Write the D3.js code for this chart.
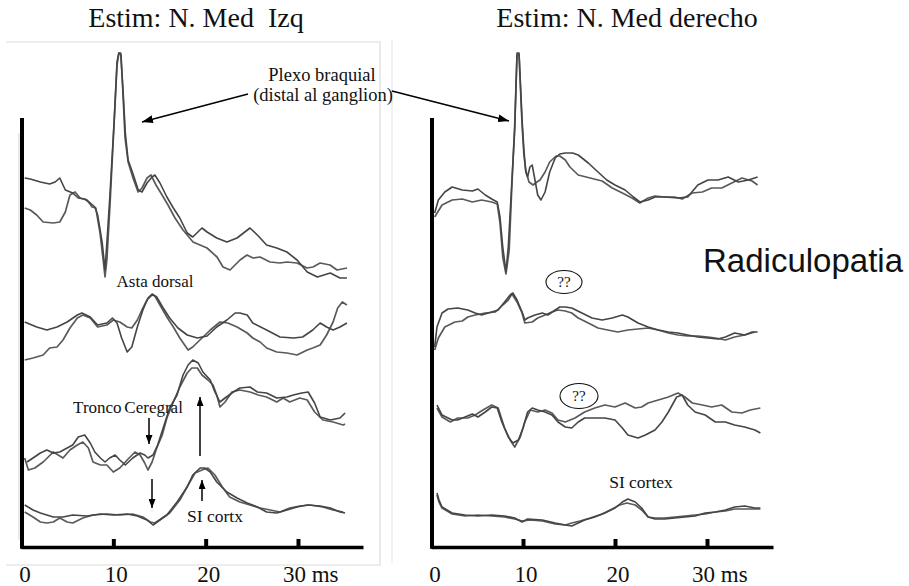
<!DOCTYPE html>
<html>
<head>
<meta charset="utf-8">
<script src="https://cdn.jsdelivr.net/npm/d3@7"></script>
<style>
  html, body { margin: 0; padding: 0; background: #ffffff; }
  svg { display: block; }
</style>
</head>
<body>
<script>
// ---------------- DATA (time in ms, amplitude in arbitrary units, + = up) ----------------
const tickValuesMs = [0, 10, 20, 30];
const tickLabels = ["0", "10", "20", "30 ms"];
const panelTitles = ["Estim: N. Med\u00a0 Izq", "Estim: N. Med derecho"];

// Left panel (Izq)
const leftPlexoA = [[0.4,42],[1.0,41],[2.1,38],[3.1,36],[3.7,38],[4.2,42],[4.8,30],[5.6,27],[6.2,22],[6.9,21],[7.5,17],[8.0,13],[8.3,5],[8.8,-23],[9.1,-50],[9.3,-23],[9.6,20],[10.1,100],[10.4,158],[10.6,167],[10.8,167],[11.05,130],[11.3,87],[11.6,60],[12.1,47],[12.7,30],[13.1,28],[13.65,37],[14.2,43],[14.5,45],[15.05,37],[15.8,23],[16.5,12],[17.2,2],[18.0,-13],[18.6,-17],[19.6,-8],[20.15,-12],[21.2,-18],[22.3,-22],[23.4,-18],[24.8,-8],[25.6,-15],[26.6,-25],[27.7,-28],[28.8,-32],[29.9,-40],[31.0,-52],[32.1,-57],[33.5,-53],[34.55,-58],[35.3,-58]];
const leftPlexoB = [[0.4,12],[1.0,10],[1.7,5],[2.4,-2],[3.5,-3],[4.2,-2],[4.8,8],[5.3,25],[5.85,28],[6.4,22],[7.15,20],[7.7,13],[8.1,12],[8.56,-13],[8.9,-40],[9.1,-57],[9.3,-40],[9.64,15],[10.07,95],[10.4,155],[10.6,167],[10.83,165],[11.05,125],[11.27,82],[11.6,58],[12.13,42],[12.68,28],[13.11,32],[13.65,42],[14.08,45],[14.62,35],[15.28,25],[15.92,15],[16.68,2],[17.55,-10],[18.63,-22],[20.15,-28],[21.23,-37],[21.88,-47],[22.64,-50],[23.72,-40],[24.48,-35],[25.13,-38],[25.89,-37],[26.97,-42],[28.05,-43],[28.81,-42],[29.89,-43],[30.98,-48],[31.63,-47],[32.39,-43],[33.47,-45],[34.23,-50],[35.31,-48]];
const leftAstaA = [[0.4,3],[1.7,-2],[2.8,-5],[3.9,-2],[5.0,3],[6.1,10],[6.6,12],[7.5,8],[8.3,0],[9.3,2],[9.9,7],[10.4,2],[10.9,-13],[11.5,-27],[12.0,-22],[12.6,-2],[13.2,15],[13.75,27],[14.2,31],[14.7,28],[15.4,17],[16.1,7],[17.0,-3],[18.0,-10],[19.1,-13],[20.15,-11],[21.2,-2],[22.3,5],[23.2,12],[23.7,12],[24.5,10],[25.1,2],[26.6,-5],[28.05,-12],[29.5,-13],[30.5,-12],[31.6,-5],[32.4,2],[33.1,-2],[33.8,-5],[34.55,-2],[35.3,2]];
const leftAstaB = [[0.4,-35],[1.3,-33],[2.4,-30],[3.1,-23],[3.9,-22],[4.55,-15],[5.3,-3],[6.1,7],[6.7,10],[7.5,7],[8.3,-2],[9.3,0],[10.0,5],[10.7,3],[11.5,-2],[12.0,-3],[12.6,5],[13.1,15],[13.65,25],[14.2,30],[14.5,29],[15.05,20],[15.8,8],[16.5,-2],[17.2,-13],[18.1,-25],[18.6,-22],[19.6,-13],[20.5,-5],[21.55,3],[22.4,2],[23.4,-2],[24.5,-8],[25.1,-13],[25.9,-17],[26.6,-23],[27.7,-27],[28.8,-28],[29.9,-30],[31.0,-25],[31.6,-23],[32.4,-20],[33.1,-10],[33.8,3],[34.3,17],[34.8,23],[35.3,20]];
const leftTroncoA = [[0.65,-32],[1.3,-28],[2.1,-23],[2.8,-20],[3.5,-23],[4.2,-22],[5.0,-18],[5.6,-15],[6.2,-7],[6.9,-5],[7.5,-13],[8.0,-22],[8.6,-28],[9.1,-32],[9.6,-28],[10.2,-25],[10.7,-30],[11.3,-35],[12.1,-28],[12.9,-23],[13.4,-25],[13.75,-28],[14.3,-25],[14.8,-15],[15.4,2],[16.1,22],[16.9,35],[17.55,55],[18.1,65],[18.6,70],[19.2,67],[19.7,58],[20.5,50],[21.0,38],[21.55,28],[22.1,32],[23.0,38],[23.7,42],[24.8,43],[25.6,38],[26.6,37],[27.7,32],[28.8,33],[29.5,35],[30.4,37],[31.1,38],[31.8,27],[32.4,13],[33.5,10],[34.55,12],[35.1,17]];
const leftTroncoB = [[0.4,-28],[0.8,-40],[1.5,-38],[2.4,-32],[3.5,-22],[4.55,-28],[5.3,-20],[6.1,-15],[6.7,-12],[7.3,-18],[7.8,-32],[8.6,-35],[9.3,-35],[10.0,-42],[10.7,-38],[11.5,-30],[12.35,-22],[12.9,-25],[13.4,-33],[13.75,-40],[14.2,-32],[14.7,-18],[15.3,-5],[15.8,12],[16.5,28],[17.2,43],[18.0,57],[18.5,62],[19.1,62],[19.6,55],[20.25,50],[20.8,45],[21.2,35],[21.55,23],[22.1,28],[22.85,38],[23.7,40],[24.8,38],[25.7,35],[26.6,33],[27.7,28],[28.4,32],[29.1,28],[30.2,32],[31.0,30],[31.8,18],[32.7,10],[33.8,8],[34.9,5],[35.1,6]];
const leftCortexA = [[0.4,5],[1.3,0],[2.1,-3],[2.8,-5],[3.5,-7],[4.55,-7],[5.6,-5],[7.15,-6],[8.6,-4],[10.0,-5],[11.5,-4],[12.6,-6],[13.65,-10],[14.3,-15],[15.05,-10],[15.8,-5],[16.9,8],[18.0,23],[18.6,35],[19.4,42],[19.9,42],[20.5,38],[21.2,28],[22.3,18],[23.4,12],[24.5,7],[25.6,3],[26.6,-2],[27.7,-3],[28.8,0],[29.9,3],[31.0,5],[32.4,4],[33.5,2],[34.55,-2],[35.1,-3]];
const leftCortexB = [[0.4,-2],[1.3,-7],[2.1,-12],[2.8,-13],[3.5,-12],[4.2,-8],[5.0,-12],[5.6,-13],[6.7,-8],[7.8,-5],[9.3,-4],[10.7,-5],[12.1,-4],[13.2,-7],[14.0,-12],[14.5,-13],[15.3,-8],[16.1,-3],[17.2,10],[18.1,25],[18.85,37],[19.6,40],[20.25,42],[21.0,35],[21.8,23],[22.6,13],[23.7,8],[24.8,5],[25.9,2],[27.0,0],[28.05,-2],[29.1,2],[30.2,4],[31.3,5],[32.7,3],[33.8,0],[34.9,-2]];

// Right panel (derecho)
const rightPlexoA = [[0.4,-13],[0.8,0],[1.5,8],[2.3,13],[3.4,10],[4.5,9],[5.1,11],[5.9,5],[6.6,1],[7.2,-2],[7.5,-17],[7.8,-47],[8.15,-72],[8.4,-47],[8.8,20],[9.1,70],[9.35,147],[9.57,147],[9.9,80],[10.1,50],[10.3,28],[10.5,23],[10.75,33],[11.0,35],[11.3,20],[11.6,5],[11.95,0],[12.4,8],[12.9,28],[13.5,42],[14.0,46],[14.6,47],[15.4,47],[16.0,45],[17.1,37],[18.15,28],[19.1,20],[20.0,15],[21.1,10],[22.0,3],[22.7,-2],[23.6,0],[24.35,3],[25.4,3],[26.85,2],[27.9,3],[29.0,15],[30.1,20],[31.2,20],[32.3,23],[33.4,18],[34.5,20],[35.5,23]];
const rightPlexoB = [[0.4,-17],[1.2,-5],[2.3,0],[3.4,1],[4.5,-2],[5.5,0],[6.6,-2],[7.2,-4],[7.5,-23],[7.8,-57],[8.15,-74],[8.5,-50],[8.8,17],[9.1,75],[9.35,145],[9.57,145],[9.9,75],[10.1,45],[10.3,30],[10.65,18],[11.1,15],[11.5,18],[11.85,20],[12.4,28],[12.9,38],[13.6,44],[14.0,44],[14.6,40],[15.1,33],[16.0,25],[17.3,22],[18.6,19],[19.7,12],[20.8,7],[21.85,2],[22.7,-3],[23.6,2],[24.35,4],[25.4,3],[26.5,3],[27.3,1],[28.4,7],[29.5,8],[30.5,12],[31.6,12],[32.7,17],[33.8,22],[34.9,19],[35.5,15]];
const rightAstaA = [[0.4,-27],[0.65,-7],[1.2,7],[1.85,11],[2.9,12],[4.0,10],[4.8,7],[5.5,5],[6.6,8],[7.3,10],[8.0,18],[8.6,25],[8.9,27],[9.35,20],[9.9,8],[10.2,0],[10.5,2],[11.3,5],[12.1,7],[12.7,5],[13.5,10],[14.0,13],[14.6,13],[15.3,12],[16.4,7],[17.5,2],[18.6,0],[19.7,2],[20.8,5],[21.4,3],[22.5,-3],[23.6,-7],[24.7,-10],[25.8,-12],[26.85,-13],[27.9,-15],[29.0,-17],[30.1,-18],[31.2,-19],[32.0,-17],[33.0,-13],[34.1,-15],[34.9,-12],[35.5,-12]];
const rightAstaB = [[0.4,-30],[0.8,-18],[1.5,-7],[2.6,-2],[3.4,-1],[4.0,3],[4.8,5],[5.9,7],[7.0,8],[7.8,15],[8.4,20],[8.8,26],[9.35,18],[9.9,7],[10.2,-3],[11.0,-2],[11.6,2],[12.4,5],[13.15,8],[13.8,10],[14.6,9],[15.3,7],[16.0,2],[17.1,-3],[18.15,-8],[19.2,-10],[20.3,-12],[21.4,-10],[22.5,-9],[23.6,-8],[24.7,-10],[25.8,-13],[26.85,-15],[27.9,-16],[29.0,-16],[30.1,-17],[30.9,-18],[32.0,-20],[33.0,-17],[34.1,-15],[35.2,-12]];
const rightTroncoA = [[0.65,15],[1.2,5],[2.3,0],[2.9,0],[3.7,3],[4.5,6],[5.1,3],[5.9,8],[6.6,13],[7.2,12],[7.7,-2],[8.4,-17],[8.9,-23],[9.5,-20],[10.0,-8],[10.5,8],[11.0,12],[11.6,10],[12.4,8],[13.15,5],[13.8,-2],[14.6,-7],[15.3,-8],[16.0,-2],[16.7,2],[17.8,2],[18.9,2],[20.0,0],[20.8,-8],[21.4,-15],[22.5,-18],[23.3,-15],[24.35,-10],[25.1,-2],[25.8,8],[26.7,23],[27.3,25],[27.9,15],[28.7,8],[29.8,5],[30.9,-2],[32.0,-2],[33.0,-5],[34.1,-7],[35.2,-10],[35.8,-13]];
const rightTroncoB = [[0.65,12],[1.2,3],[2.1,-2],[2.9,2],[4.0,2],[4.8,5],[5.65,10],[6.6,15],[7.3,12],[8.0,-8],[8.6,-20],[9.1,-27],[9.7,-17],[10.2,-2],[10.8,10],[11.6,8],[12.4,10],[13.15,7],[13.8,0],[14.6,-2],[15.65,2],[16.7,8],[17.8,12],[18.9,15],[20.0,13],[21.1,17],[22.2,12],[22.9,13],[23.6,17],[24.7,20],[25.8,23],[26.85,27],[27.6,23],[28.4,17],[29.5,15],[30.5,13],[31.6,15],[32.7,8],[33.8,7],[34.7,10],[35.8,12]];
const rightCortexA = [[0.65,22],[0.87,15],[1.2,8],[2.3,2],[3.7,0],[5.1,-1],[6.6,0],[8.0,-1],[9.1,-3],[9.9,-7],[10.5,-4],[12.1,-5],[13.5,-8],[14.6,-10],[15.3,-11],[16.0,-8],[16.7,-5],[17.8,-2],[18.9,2],[20.0,7],[20.8,13],[21.4,16],[22.2,13],[22.9,7],[23.6,-2],[24.35,-4],[25.4,-4],[26.5,-3],[27.6,-2],[28.7,-1],[29.8,2],[30.9,3],[32.0,5],[33.0,8],[34.1,9],[35.2,7],[35.8,7]];
const rightCortexB = [[0.65,20],[0.87,13],[1.2,7],[2.3,1],[3.7,-1],[5.1,0],[6.6,-1],[8.0,-2],[9.1,-4],[9.9,-6],[10.8,-5],[12.1,-6],[13.5,-9],[14.6,-10],[15.3,-8],[16.2,-6],[17.3,-3],[18.6,1],[19.7,6],[20.5,10],[21.3,12],[22.2,10],[22.9,5],[23.6,-2],[24.35,-3],[25.4,-3],[26.5,-2],[27.6,-1],[28.7,0],[29.8,1],[30.9,3],[32.0,4],[33.0,6],[34.1,6],[35.2,6],[35.8,6]];

// ---------------- LAYOUT ----------------
const W = 909, H = 586;
const axisY = 547, axisTop = 118;
const panels = [
  { title: panelTitles[0], titleX: 196, px0: 21, pxPerMs: 9.233, axisEnd: 363,
    rows: [ {base: 220, a: leftPlexoA,  b: leftPlexoB},
            {base: 325, a: leftAstaA,   b: leftAstaB},
            {base: 430, a: leftTroncoA, b: leftTroncoB},
            {base: 510, a: leftCortexA, b: leftCortexB} ] },
  { title: panelTitles[1], titleX: 627, px0: 431, pxPerMs: 9.2, axisEnd: 773,
    rows: [ {base: 200, a: rightPlexoA,  b: rightPlexoB},
            {base: 320, a: rightAstaA,   b: rightAstaB},
            {base: 420, a: rightTroncoA, b: rightTroncoB},
            {base: 515, a: rightCortexA, b: rightCortexB} ] }
];

const svg = d3.select("body").append("svg")
  .attr("width", W).attr("height", H)
  .attr("viewBox", `0 0 ${W} ${H}`);

const defs = svg.append("defs");
function marker(id, len, wid) {
  defs.append("marker")
    .attr("id", id)
    .attr("viewBox", `0 0 ${len} ${wid}`)
    .attr("refX", len).attr("refY", wid / 2)
    .attr("markerWidth", len).attr("markerHeight", wid)
    .attr("markerUnits", "userSpaceOnUse")
    .attr("orient", "auto")
    .append("path")
    .attr("d", `M0,0 L${len},${wid/2} L0,${wid} Z`)
    .attr("fill", "#000");
}
marker("headBig", 11, 8);
marker("headSmall", 9, 7);

// faint frame of the left (scanned) figure
const frame = svg.append("g").attr("stroke", "#dcdcdc").attr("stroke-width", 1.2).attr("fill", "none");
frame.append("path").attr("d", "M6,42 L380,42 L380,565 L6,565");
frame.append("line").attr("x1", 19).attr("x2", 19).attr("y1", 133).attr("y2", 540);
frame.append("line").attr("x1", 392).attr("x2", 392).attr("y1", 40).attr("y2", 563).attr("stroke", "#e6e6e6");

const serif = "'Liberation Serif', 'Times New Roman', serif";

panels.forEach(p => {
  const msEnd = (p.axisEnd - p.px0) / p.pxPerMs;
  const x = d3.scaleLinear().domain([0, msEnd]).range([p.px0, p.axisEnd]);
  const g = svg.append("g");

  // title
  g.append("text").attr("x", p.titleX).attr("y", 27)
    .attr("text-anchor", "middle")
    .attr("font-family", serif).attr("font-size", 28)
    .attr("fill", "#111").text(p.title);

  // traces
  p.rows.forEach(r => {
    const y = d3.scaleLinear().domain([0, 100]).range([r.base, r.base - 100]);
    const line = d3.line().x(d => x(d[0])).y(d => y(d[1]));
    g.append("path").datum(r.b).attr("d", line)
      .attr("fill", "none").attr("stroke", "#5a5a5a").attr("stroke-width", 1.7)
      .attr("stroke-linejoin", "round");
    g.append("path").datum(r.a).attr("d", line)
      .attr("fill", "none").attr("stroke", "#454545").attr("stroke-width", 1.6)
      .attr("stroke-linejoin", "round");
  });

  // bottom axis with inward ticks
  const axis = d3.axisBottom(x).tickValues(tickValuesMs.slice(1))
    .tickSizeInner(-8).tickSizeOuter(0).tickFormat("");
  const ax = g.append("g").attr("transform", `translate(0,${axisY})`).call(axis);
  ax.select(".domain").attr("stroke", "#000").attr("stroke-width", 3.6);
  ax.selectAll(".tick line").attr("stroke", "#000").attr("stroke-width", 4);

  // vertical axis bar
  g.append("line").attr("x1", x(0) + 1).attr("x2", x(0) + 1)
    .attr("y1", axisTop).attr("y2", axisY + 1.8)
    .attr("stroke", "#000").attr("stroke-width", 4);

  // tick labels
  tickValuesMs.forEach((v, i) => {
    const last = i === tickLabels.length - 1;
    g.append("text")
      .attr("x", last ? x(v) - 15 : x(v) + (i === 0 ? 4 : 3))
      .attr("y", 582)
      .attr("text-anchor", last ? "start" : "middle")
      .attr("font-family", serif).attr("font-size", 23)
      .attr("fill", "#111").text(tickLabels[i]);
  });
});

// ---------------- ANNOTATIONS ----------------
const ann = svg.append("g").attr("font-family", serif).attr("fill", "#111");
ann.append("text").attr("x", 322).attr("y", 81).attr("text-anchor", "middle").attr("font-size", 18.5).text("Plexo braquial");
ann.append("text").attr("x", 323).attr("y", 101).attr("text-anchor", "middle").attr("font-size", 18.5).text("(distal al ganglion)");
ann.append("text").attr("x", 155).attr("y", 287).attr("text-anchor", "middle").attr("font-size", 17).text("Asta dorsal");
ann.append("text").attr("x", 128).attr("y", 413).attr("text-anchor", "middle").attr("font-size", 17).attr("word-spacing", -1.5).text("Tronco Ceregral");
ann.append("text").attr("x", 215).attr("y", 522).attr("text-anchor", "middle").attr("font-size", 17.5).text("SI cortx");
ann.append("text").attr("x", 641).attr("y", 488).attr("text-anchor", "middle").attr("font-size", 17.5).text("SI cortex");
ann.append("text").attr("x", 803).attr("y", 272).attr("text-anchor", "middle")
  .attr("font-family", "'Liberation Sans', Arial, sans-serif").attr("font-size", 33).text("Radiculopatia");

// "??" bubbles
[[564, 282, 18, 11.5], [579, 396, 19, 12.5]].forEach(([cx, cy, rx, ry]) => {
  ann.append("ellipse").attr("cx", cx).attr("cy", cy).attr("rx", rx).attr("ry", ry)
    .attr("fill", "#fff").attr("stroke", "#111").attr("stroke-width", 1.1);
  ann.append("text").attr("x", cx).attr("y", cy + 5).attr("text-anchor", "middle")
    .attr("font-size", 15).text("??");
});

// arrows
const arrows = svg.append("g").attr("stroke", "#000").attr("fill", "none");
arrows.append("line").attr("x1", 248).attr("y1", 94).attr("x2", 142).attr("y2", 122)
  .attr("stroke-width", 1.4).attr("marker-end", "url(#headBig)");
arrows.append("line").attr("x1", 392).attr("y1", 91).attr("x2", 509).attr("y2", 121)
  .attr("stroke-width", 1.4).attr("marker-end", "url(#headBig)");
arrows.append("line").attr("x1", 149).attr("y1", 418).attr("x2", 149).attr("y2", 444)
  .attr("stroke-width", 1.5).attr("marker-end", "url(#headSmall)");
arrows.append("line").attr("x1", 200).attr("y1", 456).attr("x2", 200).attr("y2", 397)
  .attr("stroke-width", 1.5).attr("marker-end", "url(#headSmall)");
arrows.append("line").attr("x1", 152).attr("y1", 479).attr("x2", 152).attr("y2", 508)
  .attr("stroke-width", 1.5).attr("marker-end", "url(#headSmall)");
arrows.append("line").attr("x1", 202).attr("y1", 501).attr("x2", 202).attr("y2", 480)
  .attr("stroke-width", 1.5).attr("marker-end", "url(#headSmall)");
</script>
</body>
</html>
